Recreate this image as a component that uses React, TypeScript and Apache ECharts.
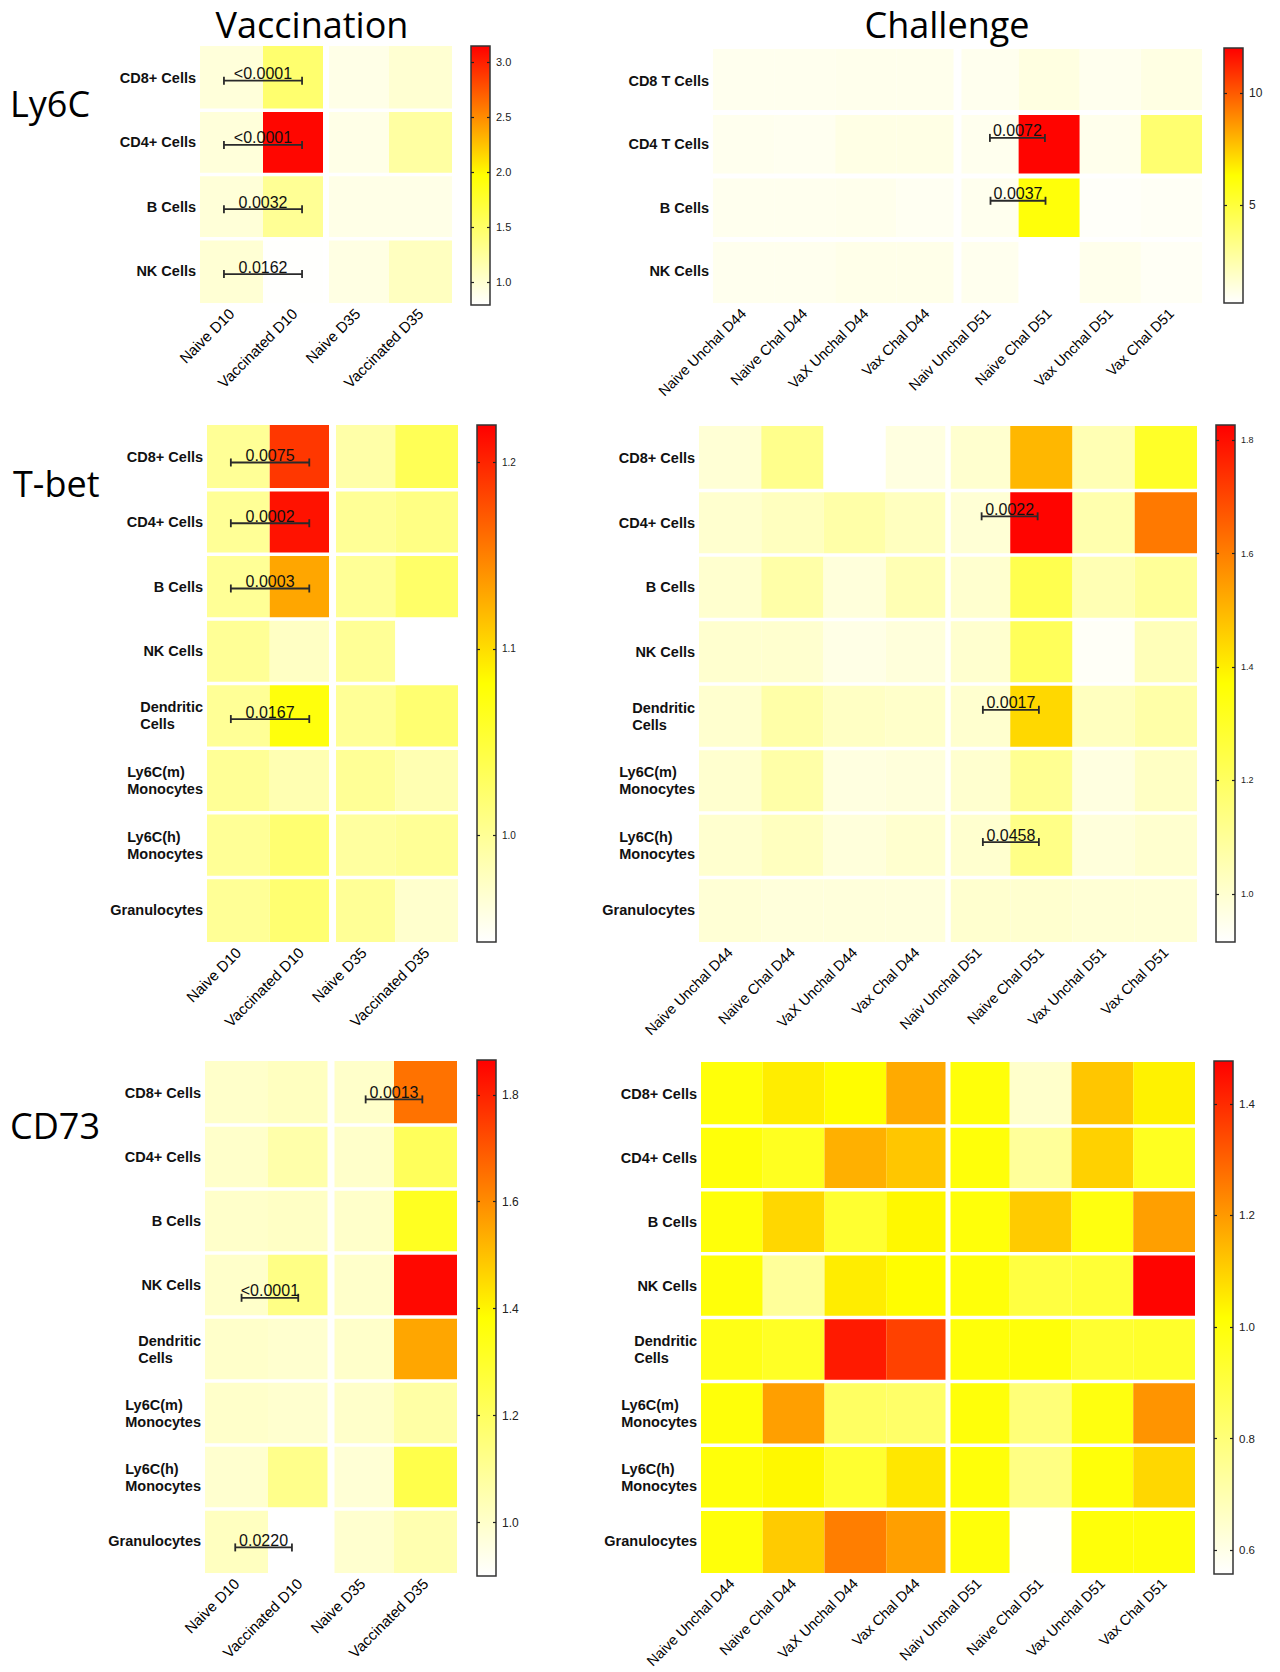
import React, { useEffect, useRef } from 'react';
import * as echarts from 'echarts';

// ---------- categories ----------
const vacCols = ['Naive D10', 'Vaccinated D10', 'Naive D35', 'Vaccinated D35'];
const chalCols = ['Naive Unchal D44', 'Naive Chal D44', 'VaX Unchal D44', 'Vax Chal D44', 'Naiv Unchal D51', 'Naive Chal D51', 'Vax Unchal D51', 'Vax Chal D51'];
const ly6cVacRows = ['CD8+ Cells', 'CD4+ Cells', 'B Cells', 'NK Cells'];
const ly6cChalRows = ['CD8 T Cells', 'CD4 T Cells', 'B Cells', 'NK Cells'];
const eightRows = ['CD8+ Cells', 'CD4+ Cells', 'B Cells', 'NK Cells', 'Dendritic\nCells', 'Ly6C(m)\nMonocytes', 'Ly6C(h)\nMonocytes', 'Granulocytes'];

// ---------- values (rows x columns) ----------
const ly6cVacValues = [
  [0.96, 1.46, 0.90, 1.00],
  [0.96, 3.12, 0.90, 1.22],
  [0.97, 1.28, 0.90, 0.90],
  [0.99, 0.80, 0.92, 1.08],
];
const ly6cChalValues = [
  [1.0, 1.0, 1.05, 1.05, 1.0, 1.3, 1.0, 1.25],
  [1.0, 0.95, 1.2, 1.2, 1.0, 11.9, 1.05, 3.8],
  [1.0, 1.0, 1.05, 0.9, 1.0, 6.1, 0.75, 0.85],
  [1.0, 1.0, 1.1, 1.1, 1.0, 0.6, 1.05, 0.85],
];
const tbetVacValues = [
  [1.0, 1.19, 0.99, 1.035],
  [1.0, 1.21, 1.0, 1.01],
  [1.0, 1.13, 1.0, 1.025],
  [1.0, 0.975, 1.0, 0.94],
  [1.0, 1.075, 1.0, 1.02],
  [1.0, 0.985, 1.0, 0.985],
  [1.0, 1.02, 0.995, 1.0],
  [1.0, 1.02, 1.0, 0.97],
];
const tbetChalValues = [
  [0.99, 1.12, 0.91, 0.97, 1.0, 1.5, 1.05, 1.3],
  [1.0, 1.03, 1.07, 1.03, 0.99, 1.82, 1.06, 1.61],
  [1.0, 1.07, 0.98, 1.05, 1.0, 1.23, 1.05, 1.1],
  [1.0, 1.0, 0.96, 0.98, 1.0, 1.21, 0.93, 1.04],
  [1.0, 1.07, 1.02, 1.01, 1.0, 1.44, 1.03, 1.07],
  [1.0, 1.07, 0.97, 0.98, 1.0, 1.11, 0.97, 1.02],
  [1.0, 1.03, 0.98, 1.0, 1.0, 1.13, 0.98, 1.0],
  [0.99, 0.98, 0.98, 0.98, 1.0, 1.0, 0.99, 0.99],
];
const cd73VacValues = [
  [1.0, 1.02, 1.0, 1.65],
  [1.0, 1.06, 1.0, 1.21],
  [1.0, 1.01, 1.0, 1.32],
  [1.0, 1.13, 1.0, 1.85],
  [1.0, 0.99, 1.0, 1.55],
  [1.0, 0.99, 1.0, 1.07],
  [0.99, 1.12, 0.98, 1.24],
  [1.02, 0.9, 0.99, 1.05],
];
const cd73ChalValues = [
  [1.0, 1.05, 1.02, 1.17, 1.0, 0.65, 1.12, 1.04],
  [1.0, 0.96, 1.16, 1.12, 1.0, 0.74, 1.1, 0.96],
  [1.0, 1.09, 0.93, 1.03, 1.0, 1.11, 0.99, 1.19],
  [1.0, 0.74, 1.05, 1.02, 1.0, 0.9, 0.92, 1.47],
  [0.98, 0.95, 1.43, 1.36, 1.0, 1.0, 0.93, 0.94],
  [1.0, 1.19, 0.84, 0.83, 1.0, 0.8, 0.99, 1.21],
  [1.0, 1.03, 0.93, 1.06, 1.0, 0.78, 1.0, 1.09],
  [1.0, 1.11, 1.25, 1.19, 1.0, 0.56, 1.0, 1.0],
];

// ---------- colour scale ranges and tick labels ----------
const ly6cVacRange = [0.79, 3.15];
const ly6cChalRange = [0.62, 12.0];
const tbetVacRange = [0.943, 1.22];
const tbetChalRange = [0.915, 1.827];
const cd73VacRange = [0.9, 1.865];
const cd73ChalRange = [0.557, 1.477];
const ly6cVacTicks = [1.0, 1.5, 2.0, 2.5, 3.0];
const ly6cChalTicks = [5, 10];
const tbetVacTicks = [1.0, 1.1, 1.2];
const tbetChalTicks = [1.0, 1.2, 1.4, 1.6, 1.8];
const cd73VacTicks = [1.0, 1.2, 1.4, 1.6, 1.8];
const cd73ChalTicks = [0.6, 0.8, 1.0, 1.2, 1.4];

// ---------- p-value annotations: [row, fromCol, toCol, label] ----------
const ly6cVacPvals = [[0, 0, 1, '<0.0001'], [1, 0, 1, '<0.0001'], [2, 0, 1, '0.0032'], [3, 0, 1, '0.0162']];
const ly6cChalPvals = [[1, 4, 5, '0.0072'], [2, 4, 5, '0.0037']];
const tbetVacPvals = [[0, 0, 1, '0.0075'], [1, 0, 1, '0.0002'], [2, 0, 1, '0.0003'], [4, 0, 1, '0.0167']];
const tbetChalPvals = [[1, 4, 5, '0.0022'], [4, 4, 5, '0.0017'], [6, 4, 5, '0.0458']];
const cd73VacPvals = [[0, 2, 3, '0.0013'], [3, 0, 1, '<0.0001'], [7, 0, 1, '0.0220']];
const cd73ChalPvals: any[] = [];

const heatColors = ['#ffffff', '#ffff00', '#ff0000'];
const FONT = '"Liberation Sans", Arial, sans-serif';

// layout: grid [left, top, width, height], bar [left, top, width, height]
// bracket: per annotation [end offset from, end offset to, vertical offset] in band fractions
const panels = [
  { rows: ly6cVacRows, cols: vacCols, values: ly6cVacValues, range: ly6cVacRange, ticks: ly6cVacTicks, digits: 1, pvals: ly6cVacPvals,
    bracket: [[-0.12, 0.12, 0.04], [-0.12, 0.12, 0.04], [-0.12, 0.12, 0.04], [-0.12, 0.12, 0.05]],
    grid: [200, 46, 252, 257], bar: [471, 46, 19, 259], split: 2, colGap: 6, rowGap: 3.5, xFont: 15, cbFont: 11 },
  { rows: ly6cChalRows, cols: chalCols, values: ly6cChalValues, range: ly6cChalRange, ticks: ly6cChalTicks, digits: 0, pvals: ly6cChalPvals,
    bracket: [[0.03, -0.07, -0.1], [0.04, -0.06, -0.11]],
    grid: [713, 49, 489, 254], bar: [1224, 48, 19, 255], split: 4, colGap: 8, rowGap: 5, xFont: 14.5, cbFont: 12 },
  { rows: eightRows, cols: vacCols, values: tbetVacValues, range: tbetVacRange, ticks: tbetVacTicks, digits: 1, pvals: tbetVacPvals,
    bracket: [[-0.12, 0.13, 0.08], [-0.12, 0.13, 0.02], [-0.12, 0.13, 0.03], [-0.12, 0.13, 0.05]],
    grid: [207, 425, 251, 517], bar: [477, 425, 19, 517], split: 2, colGap: 7, rowGap: 3.5, xFont: 15, cbFont: 10 },
  { rows: eightRows, cols: chalCols, values: tbetChalValues, range: tbetChalRange, ticks: tbetChalTicks, digits: 1, pvals: tbetChalPvals,
    bracket: [[0.04, -0.06, -0.1], [0.06, -0.04, -0.1], [0.06, -0.04, -0.05]],
    grid: [699, 426, 498, 516], bar: [1216, 425, 19, 517], split: 4, colGap: 5.5, rowGap: 3.5, xFont: 14.5, cbFont: 9 },
  { rows: eightRows, cols: vacCols, values: cd73VacValues, range: cd73VacRange, ticks: cd73VacTicks, digits: 1, pvals: cd73VacPvals,
    bracket: [[0.05, -0.05, 0.1], [0.08, -0.02, 0.2], [-0.02, -0.12, 0.1]],
    grid: [205, 1061, 252, 512], bar: [477, 1060, 19, 516], split: 2, colGap: 7, rowGap: 3.5, xFont: 15, cbFont: 12 },
  { rows: eightRows, cols: chalCols, values: cd73ChalValues, range: cd73ChalRange, ticks: cd73ChalTicks, digits: 1, pvals: cd73ChalPvals,
    bracket: [],
    grid: [701, 1062, 494, 511], bar: [1214, 1061, 19, 513], split: 4, colGap: 5, rowGap: 3.5, xFont: 14.5, cbFont: 11.5 },
];

function textStyle(s: any) {
  return { ...s, textFill: s.fill, textAlign: s.align, textVerticalAlign: s.verticalAlign };
}

function buildOption() {
  const grid: any[] = [];
  const xAxis: any[] = [];
  const yAxis: any[] = [];
  const series: any[] = [];
  const visualMap: any[] = [];

  panels.forEach((p) => {
    const gi = grid.length;
    grid.push({ left: p.grid[0], top: p.grid[1], width: p.grid[2], height: p.grid[3] });
    const xi = xAxis.length;
    xAxis.push({
      type: 'category', gridIndex: gi, data: p.cols, position: 'bottom',
      axisLine: { show: false }, axisTick: { show: false }, splitLine: { show: false },
      axisLabel: { rotate: 45, interval: 0, margin: 8, fontFamily: FONT, fontSize: p.xFont, color: '#000' },
    });
    const yi = yAxis.length;
    yAxis.push({
      type: 'category', gridIndex: gi, data: p.rows, inverse: true,
      axisLine: { show: false }, axisTick: { show: false }, splitLine: { show: false },
      axisLabel: {
        interval: 0, margin: 4,
        formatter: (v: string) => v.split('\n').map((s) => '{b|' + s + '}').join('\n'),
        rich: { b: { fontFamily: FONT, fontWeight: 'bold', fontSize: 14.5, color: '#111', lineHeight: 17, align: 'left' } },
      },
    });
    const data: number[][] = [];
    p.values.forEach((row, r) => row.forEach((v, c) => data.push([c, r, v])));
    const nRows = p.rows.length;
    visualMap.push({
      type: 'continuous', show: false, seriesIndex: series.length, dimension: 2,
      min: p.range[0], max: p.range[1], inRange: { color: heatColors },
    });
    series.push({
      type: 'custom', coordinateSystem: 'cartesian2d', xAxisIndex: xi, yAxisIndex: yi, data, silent: true, z: 2,
      renderItem: (params: any, api: any) => {
        const c = api.value(0);
        const r = api.value(1);
        const ctr = api.coord([c, r]);
        const sz = api.size([1, 1]);
        let x0 = ctr[0] - sz[0] / 2, x1 = ctr[0] + sz[0] / 2;
        let y0 = ctr[1] - sz[1] / 2, y1 = ctr[1] + sz[1] / 2;
        if (c === p.split - 1) x1 -= p.colGap / 2;
        if (c === p.split) x0 += p.colGap / 2;
        if (r > 0) y0 += p.rowGap / 2;
        if (r < nRows - 1) y1 -= p.rowGap / 2;
        return { type: 'rect', shape: { x: x0, y: y0, width: x1 - x0, height: y1 - y0 }, style: { fill: api.visual('color') } };
      },
    });
    if (p.pvals.length) {
      series.push({
        type: 'custom', coordinateSystem: 'cartesian2d', xAxisIndex: xi, yAxisIndex: yi, silent: true, z: 5,
        data: p.pvals.map((a: any) => [a[1], a[0], a[2]]),
        renderItem: (params: any, api: any) => {
          const a: any = p.pvals[params.dataIndex];
          const off = p.bracket[params.dataIndex];
          const p0 = api.coord([a[1], a[0]]);
          const p1 = api.coord([a[2], a[0]]);
          const sz = api.size([1, 1]);
          const xa = p0[0] + off[0] * sz[0];
          const xb = p1[0] + off[1] * sz[0];
          const y = p0[1] + off[2] * sz[1];
          const ls = { stroke: '#2a2a2a', lineWidth: 1.8 };
          return {
            type: 'group',
            children: [
              { type: 'line', shape: { x1: xa, y1: y, x2: xb, y2: y }, style: ls },
              { type: 'line', shape: { x1: xa, y1: y - 4, x2: xa, y2: y + 4 }, style: ls },
              { type: 'line', shape: { x1: xb, y1: y - 4, x2: xb, y2: y + 4 }, style: ls },
              { type: 'text', x: (xa + xb) / 2, y: y + 1,
                style: textStyle({ text: a[3], fill: '#111', font: '16px ' + FONT, align: 'center', verticalAlign: 'bottom' }) },
            ],
          };
        },
      });
    }
    // colour bar
    const cg = grid.length;
    grid.push({ left: p.bar[0], top: p.bar[1], width: p.bar[2], height: p.bar[3] });
    const cx = xAxis.length;
    xAxis.push({ type: 'value', gridIndex: cg, min: 0, max: 1, show: false });
    const tickStyle = { inside: true, length: 3, lineStyle: { color: '#222', width: 1.2 }, customValues: p.ticks };
    yAxis.push({
      type: 'value', gridIndex: cg, min: p.range[0], max: p.range[1], position: 'left', z: 10,
      axisLine: { show: false }, splitLine: { show: false }, axisLabel: { show: false }, axisTick: tickStyle,
    });
    const cyR = yAxis.length;
    yAxis.push({
      type: 'value', gridIndex: cg, min: p.range[0], max: p.range[1], position: 'right', z: 10,
      axisLine: { show: false }, splitLine: { show: false }, axisTick: tickStyle,
      axisLabel: { show: true, margin: 6, customValues: p.ticks, fontFamily: FONT, fontSize: p.cbFont, color: '#222',
        formatter: (v: number) => Number(v).toFixed(p.digits) },
    });
    series.push({
      type: 'custom', coordinateSystem: 'cartesian2d', xAxisIndex: cx, yAxisIndex: cyR, silent: true, z: 2,
      data: [[0, p.range[1], 1, p.range[0]]],
      renderItem: (params: any, api: any) => {
        const a = api.coord([api.value(0), api.value(1)]);
        const b = api.coord([api.value(2), api.value(3)]);
        return {
          type: 'rect',
          shape: { x: a[0], y: a[1], width: b[0] - a[0], height: b[1] - a[1] },
          style: {
            fill: new echarts.graphic.LinearGradient(0, 1, 0, 0, [
              { offset: 0, color: heatColors[0] }, { offset: 0.5, color: heatColors[1] }, { offset: 1, color: heatColors[2] },
            ]),
            stroke: '#333', lineWidth: 1.5,
          },
        };
      },
    });
  });

  const big = (text: string, x: number, y: number, align: string) => ({
    type: 'text', x, y, silent: true,
    style: textStyle({ text, fill: '#000', font: '36px "Open Sans", Lato, sans-serif', align, verticalAlign: 'middle' }),
  });

  return {
    animation: false,
    backgroundColor: '#ffffff',
    grid, xAxis, yAxis, series, visualMap,
    graphic: [
      big('Vaccination', 312, 24, 'center'),
      big('Challenge', 947, 24, 'center'),
      big('Ly6C', 10, 103.5, 'left'),
      big('T-bet', 13, 483, 'left'),
      big('CD73', 10, 1125.5, 'left'),
    ],
  };
}

export default function App() {
  const ref = useRef<HTMLDivElement>(null);
  useEffect(() => {
    const chart = echarts.init(ref.current as HTMLDivElement, null, { renderer: 'svg', width: 1280, height: 1672 });
    chart.setOption(buildOption() as any);
    return () => chart.dispose();
  }, []);
  return <div ref={ref} style={{ position: 'absolute', left: 0, top: 0, width: 1280, height: 1672, background: '#fff' }} />;
}
